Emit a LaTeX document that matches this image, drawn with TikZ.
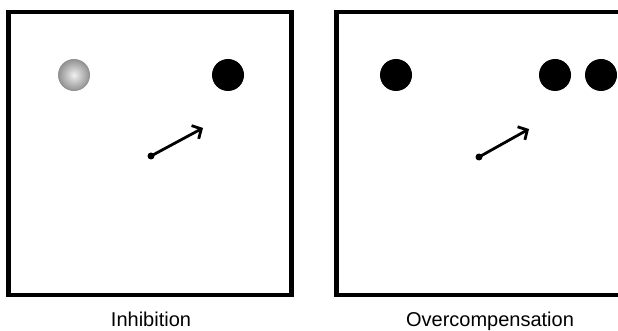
\documentclass[tikz,border=0pt]{standalone}
\usepackage{fontspec}
\setmainfont{Liberation Sans}
\usetikzlibrary{arrows.meta}
\begin{document}
\begin{tikzpicture}[x=1pt,y=-1pt,
  panel/.style={draw=black, line width=4.5pt},
  blackdot/.style={circle, fill=black, minimum size=32pt, inner sep=0pt},
  graydot/.style={circle, draw=gray!85, line width=1pt, inner color=gray!12, outer color=gray!85, minimum size=31pt, inner sep=0pt},
  origin/.style={circle, fill=black, minimum size=7pt, inner sep=0pt},
  vec/.style={line width=2.8pt, -{Straight Barb[length=7pt,width=15pt,line width=2.8pt]}},
  caption/.style={anchor=base, font=\fontsize{20}{24}\selectfont}]
\useasboundingbox (0,0) rectangle (618,331);
\clip (0,0) rectangle (618,331);
\fill[white] (0,0) rectangle (618,331);
% left panel
\draw[panel] (8.5,12) rectangle (291.5,295);
\node[graydot] (g1) at (74,75) {};
\node[blackdot] (b1) at (228,75) {};
\node[origin] (o1) at (151,156) {};
\coordinate (t1) at (203,128);
\draw[vec] (o1.center) -- (t1);
\node[caption] (l1) at (151,326.5) {Inhibition};
% right panel
\draw[panel] (336.5,12) rectangle (622,295);
\node[blackdot] (b2) at (396,75) {};
\node[blackdot] (b3) at (555,75) {};
\node[blackdot] (b4) at (601,75) {};
\node[origin] (o2) at (479,157) {};
\coordinate (t2) at (529,129);
\draw[vec] (o2.center) -- (t2);
\node[caption] (l2) at (490,326.5) {Overcompensation};
\end{tikzpicture}
\end{document}
